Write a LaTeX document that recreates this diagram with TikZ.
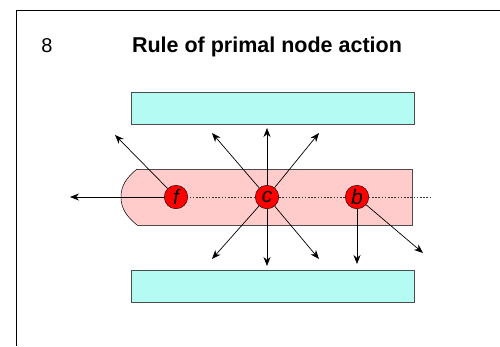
\documentclass[tikz,border=0pt]{standalone}
\usepackage{fontspec}
\setmainfont{Liberation Sans}
\usepackage{tikz}
\usetikzlibrary{arrows.meta}
\definecolor{wallcyan}{HTML}{B4FBF3}
\definecolor{streampink}{HTML}{FFCBCB}

\begin{document}
\begin{tikzpicture}[x=1pt, y=-1pt]
    \tikzstyle{wall} = [draw=black!70, fill=wallcyan, line width=0.8pt]
    \tikzstyle{pnode} = [circle, draw, fill=red, inner sep=0pt, minimum size=23.5pt, font=\fontsize{21}{21}\selectfont\itshape]
    \tikzstyle{act} = [-{Stealth[length=9pt, width=7pt]}, line width=0.7pt]
    \useasboundingbox (0,0) rectangle (500,346);
    \draw[line width=0.9pt] (500,10) -- (16,10) -- (16,346);
    \node (num) at (47,46) {\fontsize{20}{20}\selectfont 8};
    \node (title) at (267,47) {\fontsize{21.5}{21.5}\selectfont\bfseries Rule of primal node action};
    \draw[wall] (131,92) rectangle (414,124);
    \draw[wall] (131,270) rectangle (414,302);
    \fill[streampink] (412,169) -- (137,169) .. controls (126,178) and (121,186) .. (121,197)
        .. controls (121,208) and (126,216) .. (137,225) -- (412,225) -- cycle;
    \draw[black!70, line width=0.8pt] (137,169) -- (412,169) -- (412,225) -- (137,225);
    \draw[line width=0.5pt] (137,169) .. controls (126,178) and (121,186) .. (121,197)
        .. controls (121,208) and (126,216) .. (137,225);
    \draw[dash pattern=on 1.6pt off 1.6pt, black!80, line width=0.9pt] (100,197) -- (430,197);
    \node[pnode] (f) at (176,197) {f};
    \node[pnode] (c) at (267,197) {c};
    \node[pnode] (b) at (357,197) {b};
    \coordinate (fw) at (70,197); \coordinate (fn) at (115,135);
    \coordinate (cn) at (267,128); \coordinate (cnw) at (212,133); \coordinate (cne) at (319,133);
    \coordinate (cs) at (267,266); \coordinate (csw) at (212,259); \coordinate (cse) at (319,259);
    \coordinate (bs) at (357,264); \coordinate (bse) at (423,253);
    \draw[act] (f) -- (fw); \draw[act] (f) -- (fn);
    \draw[act] (c) -- (cn); \draw[act] (c) -- (cnw); \draw[act] (c) -- (cne);
    \draw[act] (c) -- (cs); \draw[act] (c) -- (csw); \draw[act] (c) -- (cse);
    \draw[act] (b) -- (bs); \draw[act] (b) -- (bse);
\end{tikzpicture}
\end{document}
